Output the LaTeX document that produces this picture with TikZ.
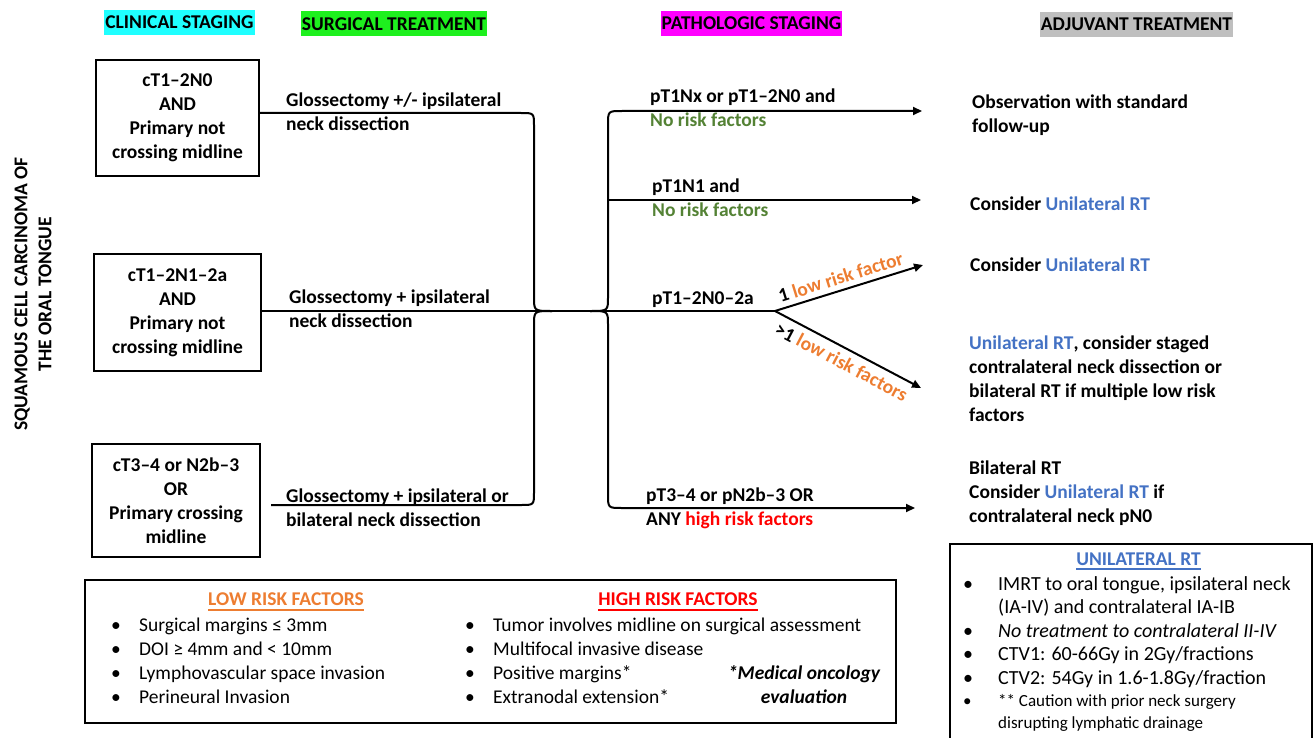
\documentclass[tikz,border=0pt]{standalone}
\usepackage{fontspec}
\setmainfont{Carlito}
\usetikzlibrary{arrows.meta}
\definecolor{hcyan}{HTML}{1FFFFF}
\definecolor{hgreen}{HTML}{1EF01E}
\definecolor{hmag}{HTML}{FF00FF}
\definecolor{hgray}{HTML}{BFBFBF}
\definecolor{rgreen}{HTML}{548235}
\definecolor{rblue}{HTML}{4472C4}
\definecolor{rorange}{HTML}{ED7D31}
\definecolor{rred}{HTML}{FF0000}
\newcommand\fmain{\fontsize{19.5}{24}\selectfont}
\newcommand\bl[1]{\makebox[28pt][l]{\textbullet}#1}
\newcommand\bu[1]{\makebox[35pt][l]{\textbullet}#1}
\begin{document}
\begin{tikzpicture}[x=1pt,y=-1pt,
  every node/.style={inner sep=0pt, font=\fmain\bfseries},
  hdr/.style={minimum height=25pt, inner xsep=1pt},
  clin/.style={draw, line width=2pt, align=center},
  txt/.style={anchor=base west, align=left},
  conn/.style={line width=2pt},
  arr/.style={line width=2pt, -{Triangle[length=9pt,width=8pt]}},
  frame/.style={draw, line width=2pt},
  uline/.style={line width=1.2pt}
]
\useasboundingbox (0,0) rectangle (1313,738);

% headers
\node[hdr, fill=hcyan] (h1) at (179.5,22.5) {CLINICAL STAGING};
\node[hdr, fill=hgreen] (h2) at (394,24) {SURGICAL TREATMENT};
\node[hdr, fill=hmag] (h3) at (751.5,23.5) {PATHOLOGIC STAGING};
\node[hdr, fill=hgray] (h4) at (1136.5,24.5) {ADJUVANT TREATMENT};

% vertical title
\node[rotate=90, align=center] (title) at (33,294) {SQUAMOUS CELL CARCINOMA OF\\THE ORAL TONGUE};

% clinical boxes
\node[clin, minimum width=163pt, minimum height=116pt] (b1) at (177.5,118) {cT1–2N0\\AND\\Primary not\\crossing midline};
\node[clin, minimum width=167pt, minimum height=117pt] (b2) at (177.5,312.5) {cT1–2N1–2a\\AND\\Primary not\\crossing midline};
\node[clin, minimum width=168pt, minimum height=113pt] (b3) at (176,500.5) {cT3–4 or N2b–3\\OR\\Primary crossing\\midline};

% surgical texts (base = last line)
\node[txt] (s1) at (286,131) {Glossectomy +/- ipsilateral\\neck dissection};
\node[txt] (s2) at (289,327) {Glossectomy + ipsilateral\\neck dissection};
\node[txt] (s3) at (286,526) {Glossectomy + ipsilateral or\\bilateral neck dissection};

% pathologic texts
\node[txt] (p1) at (650,127) {pT1Nx or pT1–2N0 and\\\textcolor{rgreen}{No risk factors}};
\node[txt] (p2) at (652,216) {pT1N1 and\\\textcolor{rgreen}{No risk factors}};
\node[txt] (p3) at (652,304) {pT1–2N0–2a};
\node[txt] (p4) at (646,525) {pT3–4 or pN2b–3 OR\\ANY \textcolor{rred}{high risk factors}};

% adjuvant texts
\node[txt] (a1) at (972,133) {Observation with standard\\follow-up};
\node[txt] (a2) at (970,210) {Consider \textcolor{rblue}{Unilateral RT}};
\node[txt] (a3) at (970,271) {Consider \textcolor{rblue}{Unilateral RT}};
\node[txt] (a4) at (969,421) {\textcolor{rblue}{Unilateral RT}, consider staged\\contralateral neck dissection or\\bilateral RT if multiple low risk\\factors};
\node[txt] (a5) at (969,522) {Bilateral RT\\Consider \textcolor{rblue}{Unilateral RT} if\\contralateral neck pN0};

% connector points
\coordinate (br) at (775,311);
\coordinate (g1) at (521,113);
\coordinate (g3) at (521,505);
\coordinate (t1) at (922,111);
\coordinate (t2) at (921,200);
\coordinate (t3) at (923,265);
\coordinate (t4) at (921,388);
\coordinate (t5) at (915,508);
\coordinate (r2) at (608,200);
\path (b3.east |- g3) ++(10,0) coordinate (s3start);

\draw[conn] (b2.east |- br) -- (br);
\draw[conn] (b1.east |- g1) -- (g1) .. controls (534,113) .. (534,126) -- (534,297) .. controls (534,311) .. (552,311);
\draw[conn] (s3start) -- (g3) .. controls (534,505) .. (534,492) -- (534,325) .. controls (534,311) .. (552,311);
\draw[arr] (590,311) .. controls (608,311) .. (608,297) -- (608,125) .. controls (608,111) .. (622,111) -- (t1);
\draw[arr] (590,311) .. controls (608,311) .. (608,325) -- (608,494) .. controls (608,508) .. (622,508) -- (t5);
\draw[arr] (r2) -- (t2);
\draw[arr] (br) -- (t3) node[pos=0.47, sloped, above=5pt] (l1) {1 \textcolor{rorange}{low risk factor}};
\draw[arr] (br) -- (t4) node[pos=0.5, sloped, below=6pt] (l2) {>1 \textcolor{rorange}{low risk factors}};

% risk factor box
\node[frame, minimum width=811pt, minimum height=143pt] (rbox) at (490.5,651.5) {};
\node[anchor=base, text=rorange] (lr) at (286,605) {LOW RISK FACTORS};
\draw[uline, rorange] ([yshift=-5pt]lr.base west) -- ([yshift=-5pt]lr.base east);
\node[anchor=base, text=rred] (hr) at (678,605) {HIGH RISK FACTORS};
\draw[uline, rred] ([yshift=-5pt]hr.base west) -- ([yshift=-5pt]hr.base east);
\node[txt, font=\fmain\mdseries] (ll) at (111,703) {\bl{Surgical margins ≤ 3mm}\\\bl{DOI ≥ 4mm and < 10mm}\\\bl{Lymphovascular space invasion}\\\bl{Perineural Invasion}};
\node[txt, font=\fmain\mdseries] (hl) at (465,703) {\bl{Tumor involves midline on surgical assessment}\\\bl{Multifocal invasive disease}\\\bl{Positive margins*}\\\bl{Extranodal extension*}};
\node[anchor=base, align=center, font=\fmain\bfseries\itshape] (mo) at (804,703) {*Medical oncology\\evaluation};

% unilateral RT box
\node[frame, anchor=north west, minimum width=362pt, minimum height=220pt] (ubox) at (949,543) {};
\node[anchor=base, text=rblue] (ut) at (1138.5,565) {UNILATERAL RT};
\draw[uline, rblue] ([yshift=-4pt]ut.base west) -- ([yshift=-4pt]ut.base east);
\node[txt, font=\fontsize{20}{23.5}\selectfont] (ul) at (963,684) {\bu{IMRT to oral tongue, ipsilateral neck}\\\hspace*{35pt}(IA-IV) and contralateral IA-IB\\\bu{\textit{No treatment to contralateral II-IV}}\\\bu{CTV1: 60-66Gy in 2Gy/fractions}\\\bu{CTV2: 54Gy in 1.6-1.8Gy/fraction}};
\node[txt, font=\fontsize{17}{22}\selectfont] (uc) at (963,728) {\bu{** Caution with prior neck surgery}\\\hspace*{35pt}disrupting lymphatic drainage};
\end{tikzpicture}
\end{document}
